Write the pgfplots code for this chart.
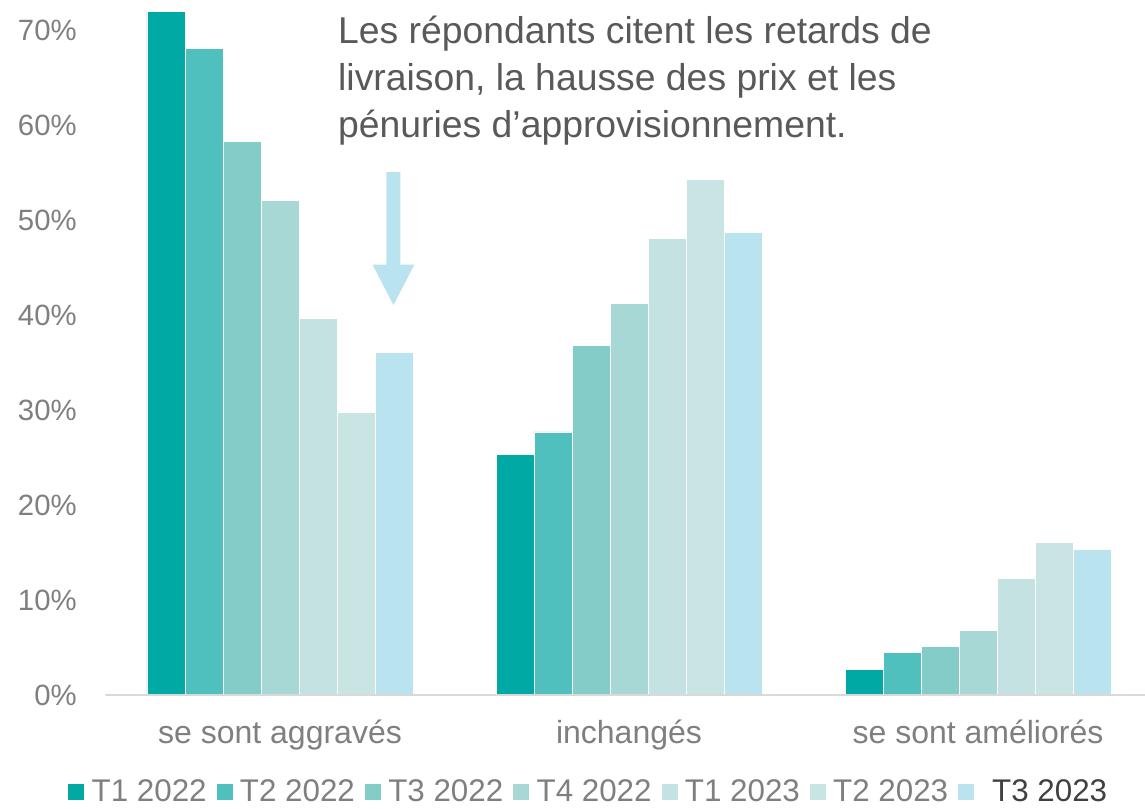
\documentclass[border=0pt]{standalone}
\usepackage{fontspec}
\setmainfont{Liberation Sans}
\usepackage{pgfplots}
\pgfplotsset{compat=1.18}
\definecolor{cA}{HTML}{00A9A4}
\definecolor{cB}{HTML}{4FC0BD}
\definecolor{cC}{HTML}{84CCC8}
\definecolor{cD}{HTML}{A7D8D5}
\definecolor{cE}{HTML}{C3E2E1}
\definecolor{cF}{HTML}{C8E5E4}
\definecolor{cG}{HTML}{B8E3EF}
\definecolor{txtgray}{HTML}{7F7F7F}
\definecolor{notegray}{HTML}{595959}
\definecolor{darkgray}{HTML}{404040}
\definecolor{linegray}{HTML}{D9D9D9}

\pgfplotsset{
  sq/.style={legend image code/.code={\fill[##1,draw=none] (0pt,-6pt) rectangle (12pt,6pt);}},
}

\begin{document}
\begin{tikzpicture}
\begin{axis}[
    name=ax,
    scale only axis,
    width=779.625pt, height=521.25pt,
    ybar=0pt, bar width=28.5pt,
    xmin=-0.5, xmax=2.4785,
    ymin=0, ymax=73.16,
    xtick={0,1,2},
    xticklabels={se sont aggravés, inchangés, se sont améliorés},
    ytick={0,10,...,70},
    yticklabel={\pgfmathprintnumber{\tick}\%},
    /pgf/number format/assume math mode=true,
    axis line style={draw=none},
    major tick length=0pt,
    xticklabel style={font=\fontsize{24}{28}\selectfont, text=txtgray, anchor=base, inner sep=0pt, yshift=-36pt},
    yticklabel style={font=\fontsize{22}{26}\selectfont, text=txtgray, anchor=east, inner sep=0pt, xshift=-21.4pt},
    legend columns=7,
    legend style={draw=none, fill=none, inner sep=0pt, font=\fontsize{23.5}{27}\selectfont, text=txtgray,
        at={(-0.036,-0.1396)}, anchor=west,
        nodes={inner sep=0pt},
        /tikz/every odd column/.append style={column sep=5.5pt},
        /tikz/every even column/.append style={column sep=7.5pt}},
    every axis plot/.append style={draw=white, line width=0.3pt},
]
% se sont aggravés, inchangés, se sont améliorés
\addplot[fill=cA, sq] coordinates {(0,72.0) (1,25.3) (2,2.7)};
\addplot[fill=cB, sq] coordinates {(0,68.1) (1,27.7) (2,4.5)};
\addplot[fill=cC, sq] coordinates {(0,58.3) (1,36.8) (2,5.1)};
\addplot[fill=cD, sq] coordinates {(0,52.1) (1,41.2) (2,6.8)};
\addplot[fill=cE, sq] coordinates {(0,39.7) (1,48.1) (2,12.3)};
\addplot[fill=cF, sq] coordinates {(0,29.8) (1,54.3) (2,16.1)};
\addplot[fill=cG, sq] coordinates {(0,36.1) (1,48.7) (2,15.3)};
\legend{T1 2022, T2 2022, T3 2022, T4 2022, T1 2023, T2 2023, \hspace{8pt}\textcolor{darkgray}{T3 2023}}

\draw[linegray, line width=1.5pt] (rel axis cs:0,0) -- (rel axis cs:1,0);

% flèche
\fill[cG] (axis cs:0.305,55.05) -- (axis cs:0.345,55.05) -- (axis cs:0.345,45.3)
    -- (axis cs:0.385,45.3) -- (axis cs:0.325,41.05) -- (axis cs:0.265,45.3)
    -- (axis cs:0.305,45.3) -- cycle;

\node[anchor=north west, align=left, inner sep=0pt, text=notegray,
      font=\fontsize{28}{35}\selectfont] at (axis cs:0.166,71.48)
  {Les répondants citent les retards de\\livraison, la hausse des prix et les\\pénuries d’approvisionnement.};
\end{axis}
\pgfresetboundingbox
\path ([shift={(-79.125pt,-84.75pt)}]ax.south west) rectangle (ax.north east);
\end{tikzpicture}
\end{document}
